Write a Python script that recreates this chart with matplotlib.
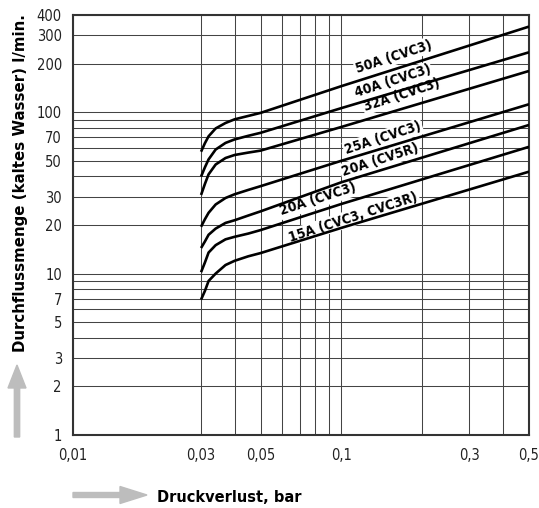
import matplotlib
matplotlib.use('Agg')
import matplotlib.pyplot as plt
from matplotlib.patches import FancyArrow

druck = [0.030, 0.031, 0.032, 0.034, 0.037, 0.040, 0.045, 0.050, 0.10, 0.50]

# Durchflussmenge (l/min) je Ventilgroesse
q_50a = [56.9, 64.2, 70.9, 79.3, 85.7, 90.3, 94.8, 99.0, 145.0, 339.0]
q_40a = [39.9, 45.5, 51.0, 58.7, 64.5, 67.8, 71.4, 74.5, 106.0, 235.0]
q_32a = [30.7, 35.9, 41.2, 47.4, 52.0, 54.3, 56.2, 57.8, 81.0, 180.0]
q_25a = [19.5, 21.7, 23.8, 26.8, 29.4, 31.0, 33.0, 34.8, 50.0, 112.0]
q_20a_cv5r = [14.4, 15.8, 17.4, 19.0, 20.6, 21.4, 22.9, 24.3, 36.8, 83.3]
q_20a_cvc3 = [10.2, 11.7, 13.5, 15.0, 16.3, 16.9, 17.7, 18.6, 27.0, 61.0]
q_15a = [6.9, 7.8, 9.0, 10.0, 11.3, 12.0, 12.8, 13.4, 19.2, 42.8]

kurven = [q_50a, q_40a, q_32a, q_25a, q_20a_cv5r, q_20a_cvc3, q_15a]

# Beschriftungen und ihre Lage (bar, l/min)
namen = ['50A (CVC3)', '40A (CVC3)', '32A (CVC3)', '25A (CVC3)',
         '20A (CV5R)', '20A (CVC3)', '15A (CVC3, CVC3R)']
label_x = [0.157, 0.155, 0.168, 0.143, 0.139, 0.082, 0.111]
label_y = [221.0, 155.0, 127.9, 68.9, 50.6, 28.8, 22.3]

x_major = [0.01, 0.03, 0.05, 0.1, 0.3, 0.5]
x_labels = ['0,01', '0,03', '0,05', '0,1', '0,3', '0,5']
x_minor = [0.04, 0.06, 0.07, 0.08, 0.09, 0.2, 0.4]
y_major = [1, 2, 3, 5, 7, 10, 20, 30, 50, 70, 100, 200, 300, 400]
y_minor = [4, 6, 8, 9, 40, 60, 80, 90]

fig = plt.figure(figsize=(5.39, 5.08), dpi=100)
ax = fig.add_axes([73 / 539, 73 / 508, 456 / 539, 420 / 508])
ax.set_xscale('log')
ax.set_yscale('log')
ax.set_xlim(0.01, 0.5)
ax.set_ylim(1, 400)

ax.set_xticks(x_major)
ax.set_xticklabels(x_labels)
ax.set_xticks(x_minor, minor=True)
ax.set_xticklabels([], minor=True)
ax.set_yticks(y_major)
ax.set_yticklabels([str(v) for v in y_major])
ax.set_yticks(y_minor, minor=True)
ax.set_yticklabels([], minor=True)
ax.tick_params(which='both', length=0)
ax.tick_params(axis='x', pad=9)
ax.tick_params(axis='y', pad=8)
for lab in ax.get_xticklabels() + ax.get_yticklabels():
    lab.set_family('DejaVu Sans')
    lab.set_stretch('condensed')
    lab.set_fontsize(10.5)
    lab.set_color('#222222')

ax.grid(True, which='both', color='#444444', linewidth=0.75, zorder=1)
ax.set_axisbelow(True)
for sp in ax.spines.values():
    sp.set_linewidth(1.5)
    sp.set_color('#333333')

for q in kurven:
    ax.plot(druck, q, color='black', linewidth=1.9, zorder=4,
            solid_joinstyle='round', solid_capstyle='butt')

for name, lx, ly in zip(namen, label_x, label_y):
    ax.text(lx, ly, name, rotation=18, rotation_mode='anchor',
            ha='center', va='center', fontsize=10, fontweight='bold',
            family='DejaVu Sans', stretch='condensed', zorder=3,
            bbox=dict(facecolor='white', edgecolor='none', pad=1.0))

fig.text(157 / 539, 1 - 497 / 508, 'Druckverlust, bar', ha='left', va='center',
         fontsize=10.5, fontweight='bold')
fig.text(21 / 539, 1 - 183 / 508, 'Durchflussmenge (kaltes Wasser) l/min.',
         rotation=90, ha='center', va='center', fontsize=10.8, fontweight='bold')

# graue Pfeile
grau = '#bdbdbd'
fig.patches.append(FancyArrow(17 / 539, 1 - 437 / 508, 0, 72 / 508,
                              width=5 / 508, head_width=18 / 539,
                              head_length=23 / 508, length_includes_head=True,
                              color=grau, transform=fig.transFigure, figure=fig))
fig.patches.append(FancyArrow(73 / 539, 1 - 495 / 508, 74 / 539, 0,
                              width=5 / 508, head_width=17 / 508,
                              head_length=27 / 539, length_includes_head=True,
                              color=grau, transform=fig.transFigure, figure=fig))

fig.savefig('out.png', dpi=100)
